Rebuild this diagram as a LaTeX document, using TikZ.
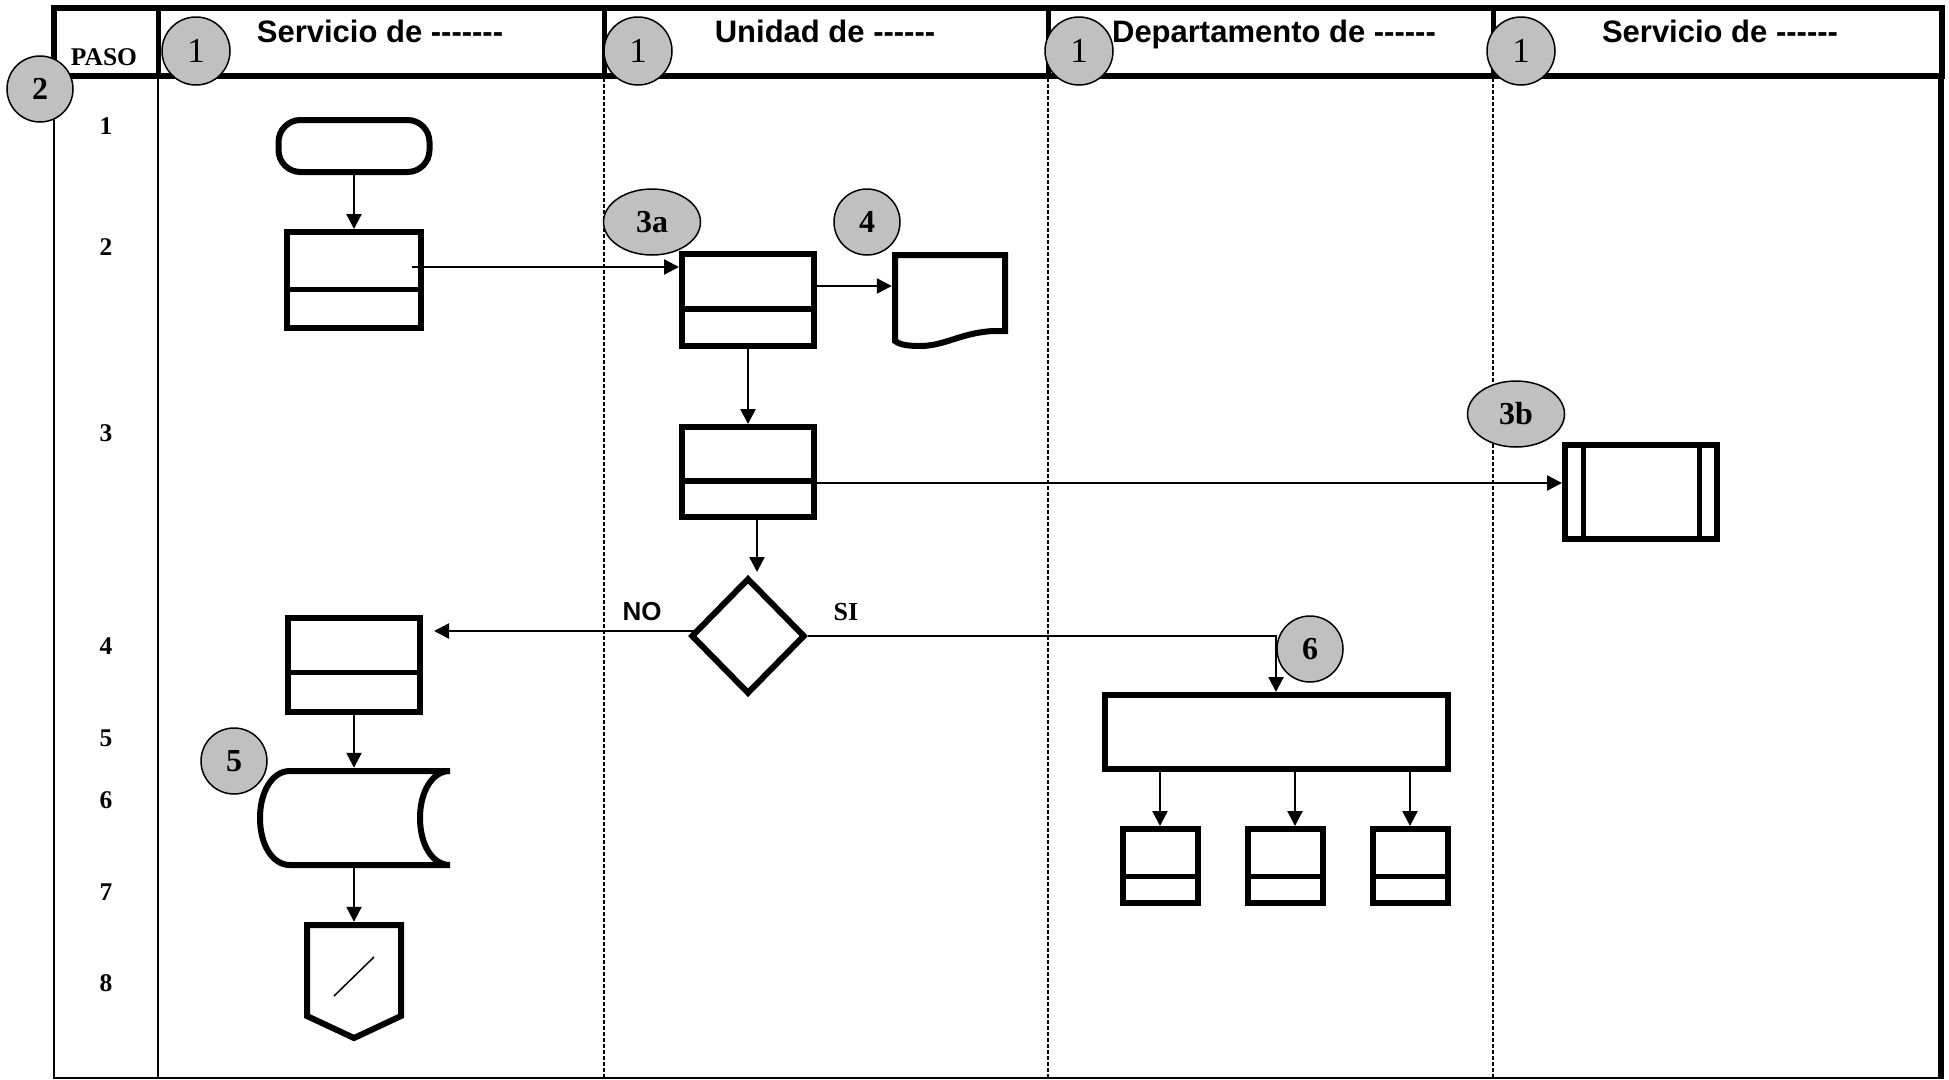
\documentclass[tikz,border=0pt]{standalone}
\usepackage{fontspec}
\setmainfont{Liberation Serif}
\newfontfamily\arialfont{Liberation Sans}
\usetikzlibrary{arrows.meta,shapes.geometric,calc}
\definecolor{badgegray}{HTML}{C0C0C0}
\tikzset{
  shp/.style={draw, line width=6pt, inner sep=0pt, fill=white},
  twopart/.style={shp, path picture={\draw[line width=5.5pt]
      ($(path picture bounding box.south west)!#1!(path picture bounding box.north west)$) --
      ($(path picture bounding box.south east)!#1!(path picture bounding box.north east)$);}},
  twopart/.default=0.4,
  subproc/.style={shp, path picture={
      \draw[line width=5pt] ([xshift=18pt]path picture bounding box.south west) -- ([xshift=18pt]path picture bounding box.north west);
      \draw[line width=5pt] ([xshift=-18pt]path picture bounding box.south east) -- ([xshift=-18pt]path picture bounding box.north east);}},
  ghost/.style={inner sep=0pt},
  outline/.style={line width=6pt, line join=miter},
  arr/.style={line width=2.3pt, -{Triangle[length=15pt,width=15pt]}},
  lane/.style={line width=1.5pt, dash pattern=on 4pt off 2pt},
  badge/.style={draw, line width=1.5pt, fill=badgegray, circle, minimum size=66pt, inner sep=0pt,
      font=\fontsize{32}{36}\selectfont\bfseries},
  ebadge/.style={badge, ellipse, minimum width=97pt, minimum height=66pt},
  hbadge/.style={badge, minimum size=68pt, font=\fontsize{35}{40}\selectfont},
  hdr/.style={inner sep=0pt, font=\arialfont\bfseries\fontsize{31}{36}\selectfont},
  rowlab/.style={inner sep=0pt, font=\bfseries\fontsize{25.5}{30}\selectfont},
  nolab/.style={inner sep=0pt, font=\arialfont\bfseries\fontsize{26}{30}\selectfont},
  silab/.style={inner sep=0pt, font=\bfseries\fontsize{26}{30}\selectfont},
}
\begin{document}
\begin{tikzpicture}[x=1pt,y=-1pt]
\useasboundingbox (0,0) rectangle (1949,1079);
\fill[white] (0,0) rectangle (1949,1079);

% table frame
\draw[line width=5.5pt] (54,8) rectangle (1942,76);
\foreach \xx in {158,604,1048,1493} \draw[line width=5pt] (\xx,8) -- (\xx,76);
\draw[line width=2pt] (54,76) -- (54,1078) -- (1942,1078);
\draw[line width=2pt] (158,76) -- (158,1078);
\draw[line width=6pt] (1941,76) -- (1941,1079);
\foreach \xx in {604,1048,1493} \draw[lane] (\xx,78) -- (\xx,1077);

% header texts
\node[hdr, anchor=base] (h1) at (380,42) {Servicio de -------};
\node[hdr, anchor=base] (h2) at (825,42) {Unidad de ------};
\node[hdr, anchor=base] (h3) at (1274,42) {Departamento de ------};
\node[hdr, anchor=base] (h4) at (1720,42) {Servicio de ------};
\node[rowlab] (paso) at (104,57) {PASO};

% row numbers
\node[rowlab] (r1) at (106,126) {1};
\node[rowlab] (r2) at (106,247) {2};
\node[rowlab] (r3) at (106,433) {3};
\node[rowlab] (r4) at (106,646) {4};
\node[rowlab] (r5) at (106,738) {5};
\node[rowlab] (r6) at (106,800) {6};
\node[rowlab] (r7) at (106,892) {7};
\node[rowlab] (r8) at (106,983) {8};

% shapes
\node[shp, rounded corners=22pt, minimum width=151pt, minimum height=52pt] (term) at (354,146) {};
\node[twopart, minimum width=134pt, minimum height=96pt] (b1) at (354,280) {};
\node[twopart, minimum width=132pt, minimum height=92pt] (b3a) at (748,300) {};
\node[ghost, minimum width=116pt, minimum height=68pt] (doc) at (950,286) {};
\draw[outline] (895,341) -- (895,255) -- (1005,255) -- (1005,331) -- (993,331)
   .. controls (960,333) and (945,346) .. (920,346) .. controls (905,346) and (899,344) .. (895,341) -- cycle;
\node[twopart, minimum width=132pt, minimum height=90pt] (b3) at (748,472) {};
\node[subproc, minimum width=152pt, minimum height=94pt] (sub) at (1641,492) {};
\node[shp, diamond, minimum width=114pt, minimum height=116pt] (dia) at (748,636) {};
\node[twopart=0.42, minimum width=132pt, minimum height=94pt] (b4) at (354,665) {};
\node[ghost, minimum width=193pt, minimum height=100pt] (store) at (354,818) {};
\draw[outline] (290,771) -- (450,771)
   .. controls (432,771) and (420,792) .. (420,818) .. controls (420,844) and (432,865) .. (450,865)
   -- (290,865) .. controls (272,865) and (260,844) .. (260,818) .. controls (260,792) and (272,771) .. (290,771) -- cycle;
\node[ghost, minimum width=99pt, minimum height=118pt] (off) at (354,981) {};
\draw[outline] (307,925) -- (401,925) -- (401,1016) -- (354,1038) -- (307,1016) -- cycle;
\draw[line width=1.5pt] (334,996) -- (374,957);
\node[shp, minimum width=343pt, minimum height=74pt] (big) at (1276,732) {};
\node[twopart=0.36, minimum width=75pt, minimum height=74pt] (sb1) at (1160,866) {};
\node[twopart=0.36, minimum width=75pt, minimum height=74pt] (sb2) at (1285,866) {};
\node[twopart=0.36, minimum width=75pt, minimum height=74pt] (sb3) at (1410,866) {};

% connectors
\draw[arr] ([yshift=2pt]term.south) -- (b1.north);
\draw[arr] ($(b1.east |- b3a.center)+(-12,-33)$) -- ($(b3a.west)+(0,-33)$);
\draw[arr] (b3a.east |- doc.west) -- (doc.west);
\draw[arr] ([yshift=4pt]b3a.south) -- (b3a.south |- b3.north);
\draw[arr] ($(b3.east)+(0,11)$) -- ($(sub.west |- b3.east)+(0,11)$);
\draw[arr] ($(b3.south)+(9,0)$) -- ($(dia.north)+(9,-3)$);
\draw[arr] ($(dia.west)+(6,-5)$) -- ($(b4.east |- dia.west)+(11,-5)$);
\draw[arr] (dia.east) -| (big.north);
\draw[arr] ([yshift=4pt]b4.south) -- (store.north);
\draw[arr] (store.south) -- (off.north);
\draw[arr] (big.south -| sb1.north) -- (sb1.north);
\draw[arr] ($(big.south -| sb2.north)+(10,0)$) -- ($(sb2.north)+(10,0)$);
\draw[arr] (big.south -| sb3.north) -- (sb3.north);

% labels
\node[nolab] (no) at (642,612) {NO};
\node[silab] (si) at (846,612) {SI};

% badges
\node[hbadge] (c1a) at (196,51) {1};
\node[hbadge] (c1b) at (638,51) {1};
\node[hbadge] (c1c) at (1079,51) {1};
\node[hbadge] (c1d) at (1521,51) {1};
\node[badge] (c2) at (40,89) {2};
\node[ebadge] (c3a) at (652,222) {3a};
\node[badge] (c4) at (867,222) {4};
\node[ebadge] (c3b) at (1516,414) {3b};
\node[badge] (c5) at (234,761) {5};
\node[badge] (c6) at (1310,649) {6};
\end{tikzpicture}
\end{document}
